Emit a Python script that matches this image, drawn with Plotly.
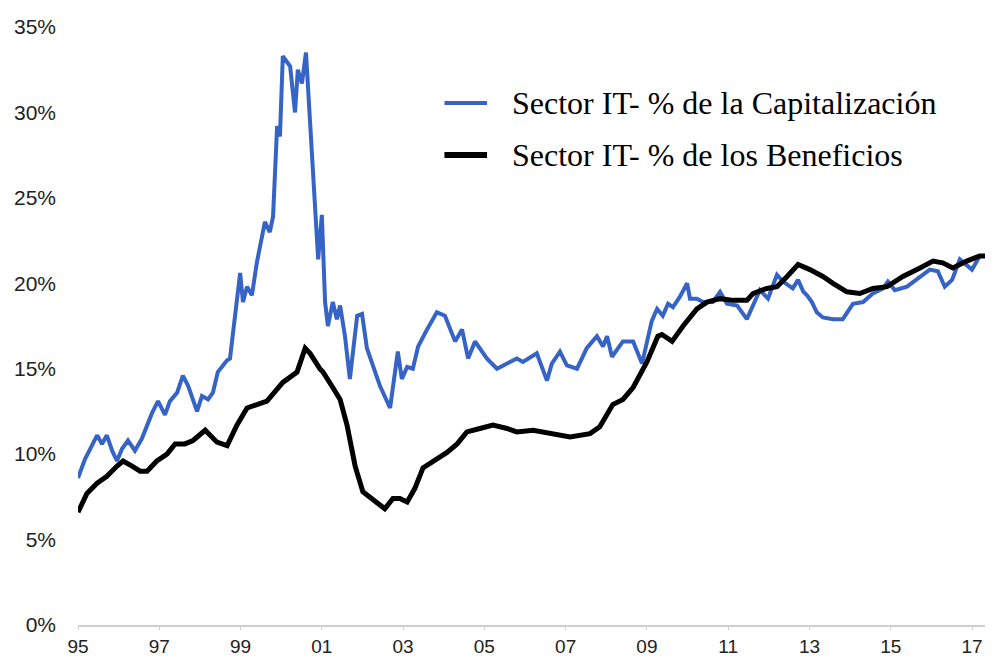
import plotly.graph_objs as go

# Sector IT - % de la capitalizacion (azul)
cap_years = [1995.00, 1995.17, 1995.47, 1995.59, 1995.71, 1995.84, 1995.96, 1996.08, 1996.23, 1996.40,
             1996.57, 1996.82, 1996.97, 1997.14, 1997.26, 1997.44, 1997.58, 1997.71, 1997.93, 1998.05,
             1998.20, 1998.32, 1998.44, 1998.67, 1998.74, 1998.99, 1999.06, 1999.16, 1999.28, 1999.40,
             1999.60, 1999.72, 1999.80, 1999.90, 1999.97, 2000.04, 2000.22, 2000.34, 2000.41, 2000.51,
             2000.61, 2000.66, 2000.91, 2001.00, 2001.08, 2001.15, 2001.27, 2001.37, 2001.45, 2001.57,
             2001.69, 2001.87, 2001.99, 2002.11, 2002.43, 2002.68, 2002.87, 2002.97, 2003.10, 2003.24,
             2003.37, 2003.59, 2003.83, 2004.03, 2004.15, 2004.28, 2004.45, 2004.60, 2004.77, 2005.06,
             2005.31, 2005.56, 2005.80, 2005.95, 2006.29, 2006.54, 2006.66, 2006.86, 2007.03, 2007.28,
             2007.52, 2007.77, 2007.92, 2008.02, 2008.14, 2008.41, 2008.66, 2008.88, 2009.12, 2009.25,
             2009.39, 2009.52, 2009.64, 2009.81, 2009.99, 2010.06, 2010.23, 2010.38, 2010.62, 2010.80,
             2010.97, 2011.22, 2011.46, 2011.61, 2011.78, 2011.98, 2012.20, 2012.35, 2012.59, 2012.72,
             2012.85, 2012.94, 2013.06, 2013.18, 2013.33, 2013.58, 2013.82, 2014.07, 2014.32, 2014.56,
             2014.81, 2014.93, 2015.10, 2015.40, 2015.64, 2015.96, 2016.16, 2016.33, 2016.51, 2016.70,
             2017.00, 2017.19, 2017.32]
cap_pct = [8.6, 9.7, 11.1, 10.6, 11.1, 10.2, 9.6, 10.3, 10.8, 10.2,
           10.9, 12.4, 13.1, 12.3, 13.1, 13.6, 14.6, 14.0, 12.5, 13.4,
           13.2, 13.6, 14.8, 15.5, 15.6, 20.6, 18.9, 19.8, 19.3, 21.2,
           23.6, 23.0, 23.9, 29.2, 28.6, 33.3, 32.7, 30.0, 32.5, 31.7,
           33.5, 31.5, 21.4, 24.0, 18.9, 17.5, 18.9, 17.9, 18.7, 16.9,
           14.4, 18.1, 18.2, 16.2, 14.0, 12.7, 16.0, 14.4, 15.1, 15.0,
           16.3, 17.3, 18.3, 18.1, 17.3, 16.6, 17.3, 15.6, 16.6, 15.6,
           15.0, 15.3, 15.6, 15.4, 15.9, 14.3, 15.3, 16.0, 15.2, 15.0,
           16.2, 16.9, 16.3, 16.9, 15.7, 16.6, 16.6, 15.3, 17.8, 18.5,
           18.1, 18.8, 18.6, 19.2, 20.0, 19.1, 19.1, 18.9, 18.9, 19.5,
           18.8, 18.7, 17.9, 18.7, 19.6, 19.1, 20.5, 20.1, 19.7, 20.2,
           19.5, 19.3, 18.9, 18.3, 18.0, 17.9, 17.9, 18.8, 18.9, 19.4,
           19.7, 20.1, 19.6, 19.8, 20.2, 20.8, 20.7, 19.8, 20.2, 21.4,
           20.8, 21.6, 21.6]

# Sector IT - % de los beneficios (negro)
ben_years = [1995.00, 1995.22, 1995.47, 1995.71, 1995.96, 1996.11, 1996.33, 1996.53, 1996.70, 1996.94,
             1997.19, 1997.39, 1997.63, 1997.83, 1998.13, 1998.42, 1998.67, 1998.91, 1999.16, 1999.65,
             2000.04, 2000.39, 2000.59, 2000.71, 2000.95, 2001.03, 2001.27, 2001.45, 2001.62, 2001.82,
             2002.01, 2002.26, 2002.55, 2002.75, 2002.92, 2003.10, 2003.29, 2003.49, 2003.74, 2004.08,
             2004.33, 2004.57, 2004.89, 2005.21, 2005.56, 2005.80, 2006.20, 2006.69, 2007.11, 2007.60,
             2007.84, 2008.16, 2008.41, 2008.66, 2009.00, 2009.27, 2009.37, 2009.62, 2009.89, 2010.23,
             2010.48, 2010.80, 2011.12, 2011.46, 2011.61, 2011.95, 2012.20, 2012.45, 2012.72, 2013.01,
             2013.33, 2013.58, 2013.92, 2014.24, 2014.56, 2014.91, 2015.30, 2015.72, 2016.04, 2016.28,
             2016.53, 2016.87, 2017.19, 2017.32]
ben_pct = [6.6, 7.7, 8.3, 8.7, 9.3, 9.6, 9.3, 9.0, 9.0, 9.6,
           10.0, 10.6, 10.6, 10.8, 11.4, 10.7, 10.5, 11.7, 12.7, 13.1,
           14.2, 14.8, 16.2, 15.9, 15.0, 14.8, 13.9, 13.2, 11.7, 9.3,
           7.8, 7.3, 6.8, 7.4, 7.4, 7.2, 8.0, 9.2, 9.6, 10.1,
           10.6, 11.3, 11.5, 11.7, 11.5, 11.3, 11.4, 11.2, 11.0, 11.2,
           11.6, 12.9, 13.2, 13.9, 15.4, 16.9, 17.0, 16.6, 17.5, 18.5,
           18.9, 19.1, 19.0, 19.0, 19.4, 19.7, 19.8, 20.4, 21.1, 20.8,
           20.4, 20.0, 19.5, 19.4, 19.7, 19.8, 20.4, 20.9, 21.3, 21.2,
           20.9, 21.3, 21.6, 21.6]

tick_years = [1995, 1997, 1999, 2001, 2003, 2005, 2007, 2009, 2011, 2013, 2015, 2017]
tick_labels = ['95', '97', '99', '01', '03', '05', '07', '09', '11', '13', '15', '17']

series_names = ['Sector IT- % de la Capitalización', 'Sector IT- % de los Beneficios']
series_colors = ['#3563c6', 'black']
series_widths = [4, 6]

trace_cap = go.Scatter(x=cap_years, y=cap_pct, mode='lines', name=series_names[0],
                       line=dict(color=series_colors[0], width=series_widths[0]))
trace_ben = go.Scatter(x=ben_years, y=ben_pct, mode='lines', name=series_names[1],
                       line=dict(color=series_colors[1], width=5))

# leyenda dibujada a mano (muestra de linea + texto)
shapes = []
annotations = []
for i, nombre in enumerate(series_names):
    ypos = 0.873 - i * 0.087
    shapes.append(dict(type='line', xref='paper', yref='paper',
                       x0=0.404, x1=0.451, y0=ypos, y1=ypos,
                       line=dict(color=series_colors[i], width=series_widths[i])))
    annotations.append(dict(xref='paper', yref='paper', x=0.476, y=ypos,
                            xanchor='left', yanchor='middle', showarrow=False,
                            text=nombre,
                            font=dict(family='Liberation Serif, Times New Roman', size=32, color='black')))

layout = go.Layout(
    width=998, height=659,
    margin=dict(l=78, r=13, t=27, b=34),
    paper_bgcolor='white', plot_bgcolor='white',
    font=dict(family='Liberation Sans, Arial', size=21, color='#222222'),
    showlegend=False,
    shapes=shapes,
    annotations=annotations,
    xaxis=dict(range=[1995, 2017.32], tickvals=tick_years, ticktext=tick_labels,
               showgrid=False, zeroline=False, showline=True, linecolor='#d0d0d0', linewidth=2,
               ticks='outside', ticklen=3, tickcolor='#d0d0d0', tickwidth=1, automargin=False,
               tickfont=dict(size=19)),
    yaxis=dict(range=[0, 35], tickvals=[0, 5, 10, 15, 20, 25, 30, 35],
               ticktext=['0%', '5%', '10%', '15%', '20%', '25%', '30%', '35%'],
               showgrid=False, zeroline=False, showline=False, ticks='',
               ticklabelstandoff=21, automargin=False),
)

fig = go.Figure(data=[trace_cap, trace_ben], layout=layout)
# quitar el margen por defecto del body para que el grafico quede en (0, 0)
fig.write_html('out.html', config={'displayModeBar': False},
               post_script="document.body.style.margin='0';")
